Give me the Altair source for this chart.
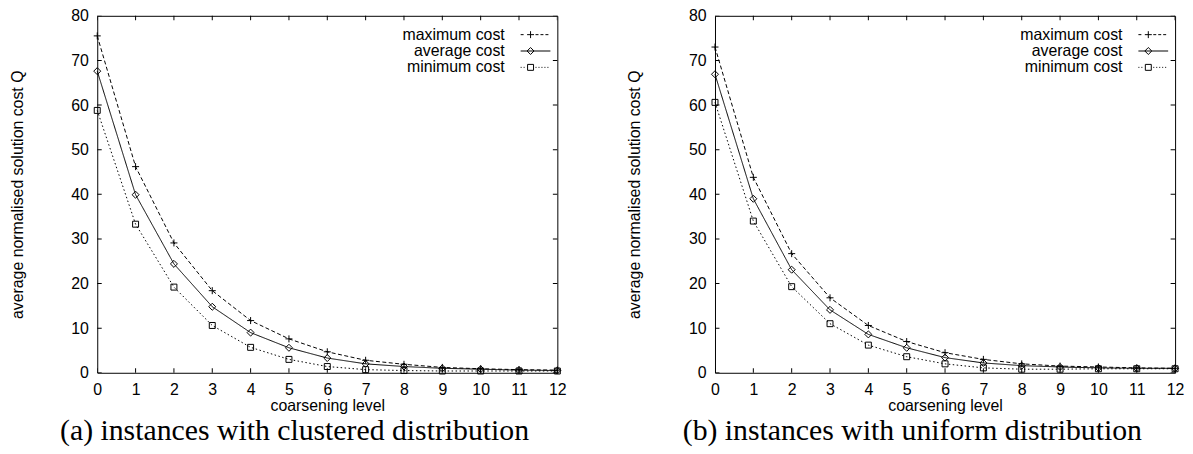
import altair as alt
import pandas as pd

# ---- data ----
levels = list(range(13))
series_names = ["maximum cost", "average cost", "minimum cost"]

max_clustered = [75.5, 46.2, 29.1, 18.4, 11.7, 7.6, 4.7, 2.8, 1.9, 1.2, 0.9, 0.7, 0.6]
avg_clustered = [67.6, 39.9, 24.4, 14.8, 9.0, 5.6, 3.3, 2.0, 1.4, 1.0, 0.8, 0.6, 0.5]
min_clustered = [58.8, 33.3, 19.2, 10.6, 5.7, 3.0, 1.4, 0.7, 0.5, 0.4, 0.4, 0.4, 0.4]

max_uniform = [73.0, 43.8, 26.7, 16.8, 10.6, 7.0, 4.5, 3.0, 2.0, 1.5, 1.3, 1.1, 1.0]
avg_uniform = [66.9, 39.0, 23.1, 14.1, 8.6, 5.6, 3.4, 2.2, 1.6, 1.3, 1.1, 1.0, 1.0]
min_uniform = [60.6, 34.0, 19.3, 11.0, 6.2, 3.6, 2.0, 1.1, 0.8, 0.8, 0.9, 0.9, 0.9]

x_ticks = list(range(13))
y_ticks = [0, 10, 20, 30, 40, 50, 60, 70, 80]
x_edges = [0, 12]
y_edges = [0, 80]

captions = ["(a) instances with clustered distribution",
            "(b) instances with uniform distribution"]
x_title = "coarsening level"
y_title = "average normalised solution cost Q"

# ---- styles ----
FONT = "Liberation Sans"
dash_range = [[4, 2.5], [1, 0], [1.5, 2.5]]
marker_paths = ["M-1,0H1M0,-1V1",
                "M0,-1L1,0L0,1L-1,0Z",
                "M-0.85,-0.85H0.85V0.85H-0.85Z"]


def segs(on, off, gap_from=-1.7, gap_to=-0.3):
    out = []
    x = -3.0
    while x < 3.0:
        e = min(x + on, 3.0)
        if e <= gap_from or x >= gap_to:
            out.append(f"M{x:.2f},0H{e:.2f}")
        x += on + off
    return "".join(out)


legend_paths = [
    segs(0.6, 0.4) + "M-1.7,0H-0.3M-1,-0.7V0.7",
    "M-3,0H3M-1,-0.7L-0.3,0L-1,0.7L-1.7,0Z",
    segs(0.2, 0.4) + "M-1.6,-0.6H-0.4V0.6H-1.6Z",
]


def panel(mx, av, mn, caption):
    rows = []
    for name, vals in zip(series_names, [mx, av, mn]):
        for lv, v in zip(levels, vals):
            rows.append({"level": lv, "cost": v, "series": name})
    df = pd.DataFrame(rows)

    xt = pd.DataFrame([{"level": t, "cost": e} for t in x_ticks for e in y_edges])
    yt = pd.DataFrame([{"level": e, "cost": t} for t in y_ticks for e in x_edges])

    xaxis = alt.Axis(values=x_ticks, labelFlush=False, labelOverlap=False,
                     labelPadding=9, titlePadding=0)
    yaxis = alt.Axis(values=y_ticks, labelFlush=False, labelOverlap=False,
                     labelPadding=9, titlePadding=46)
    xenc = alt.X("level:Q", title=x_title,
                 scale=alt.Scale(domain=[0, 12], nice=False, zero=False), axis=xaxis)
    yenc = alt.Y("cost:Q", title=y_title,
                 scale=alt.Scale(domain=[0, 80], nice=False), axis=yaxis)

    lines = alt.Chart(df).mark_line(color="black", strokeWidth=1).encode(
        x=xenc, y=yenc,
        strokeDash=alt.StrokeDash("series:N",
                                  scale=alt.Scale(domain=series_names, range=dash_range),
                                  legend=None))
    points = alt.Chart(df).mark_point(filled=False, color="black", strokeWidth=1, size=50,
                                      opacity=1).encode(
        x=xenc, y=yenc,
        shape=alt.Shape("series:N",
                        scale=alt.Scale(domain=series_names, range=marker_paths),
                        legend=None))
    legend_layer = alt.Chart(df).transform_filter("false").mark_point(
        filled=False, color="black", strokeWidth=1, opacity=1).encode(
        x=xenc, y=yenc,
        shape=alt.Shape("series:N",
                        scale=alt.Scale(domain=series_names, range=legend_paths),
                        legend=alt.Legend(orient="none", legendX=434, legendY=11,
                                          title=None, labelFont=FONT, labelFontSize=16,
                                          labelColor="black", labelAlign="right",
                                          labelOffset={"expr": "-39"}, symbolSize=100,
                                          symbolStrokeWidth=1, symbolStrokeColor="black",
                                          rowPadding=0.5, labelLimit=300)))
    xticks = alt.Chart(xt).mark_tick(orient="vertical", size=9, thickness=1,
                                     color="black", clip=True, opacity=1).encode(
        x=xenc, y=yenc)
    yticks = alt.Chart(yt).mark_tick(orient="horizontal", size=9, thickness=1,
                                     color="black", clip=True, opacity=1).encode(
        x=xenc, y=yenc)

    return alt.layer(lines, points, legend_layer, xticks, yticks).resolve_scale(
        shape="independent", strokeDash="independent"
    ).properties(
        width=464, height=360,
        title=alt.TitleParams(caption, orient="bottom", font="Liberation Serif",
                              fontSize=30, fontWeight="normal", color="black",
                              anchor="middle", frame="group", dx=-33, offset=3))


left = panel(max_clustered, avg_clustered, min_clustered, captions[0])
right = panel(max_uniform, avg_uniform, min_uniform, captions[1])

chart = alt.hconcat(left, right, spacing=59).configure_view(
    stroke="black", strokeWidth=1
).configure_axis(
    domain=False, ticks=False, grid=False,
    labelFont=FONT, labelFontSize=16, labelColor="black",
    titleFont=FONT, titleFontSize=16, titleFontWeight="normal", titleColor="black"
).properties(padding={"top": -3, "left": 0, "right": 0, "bottom": 0},
             background="white")

chart.save("out.html", embed_options={"renderer": "svg", "actions": False})
